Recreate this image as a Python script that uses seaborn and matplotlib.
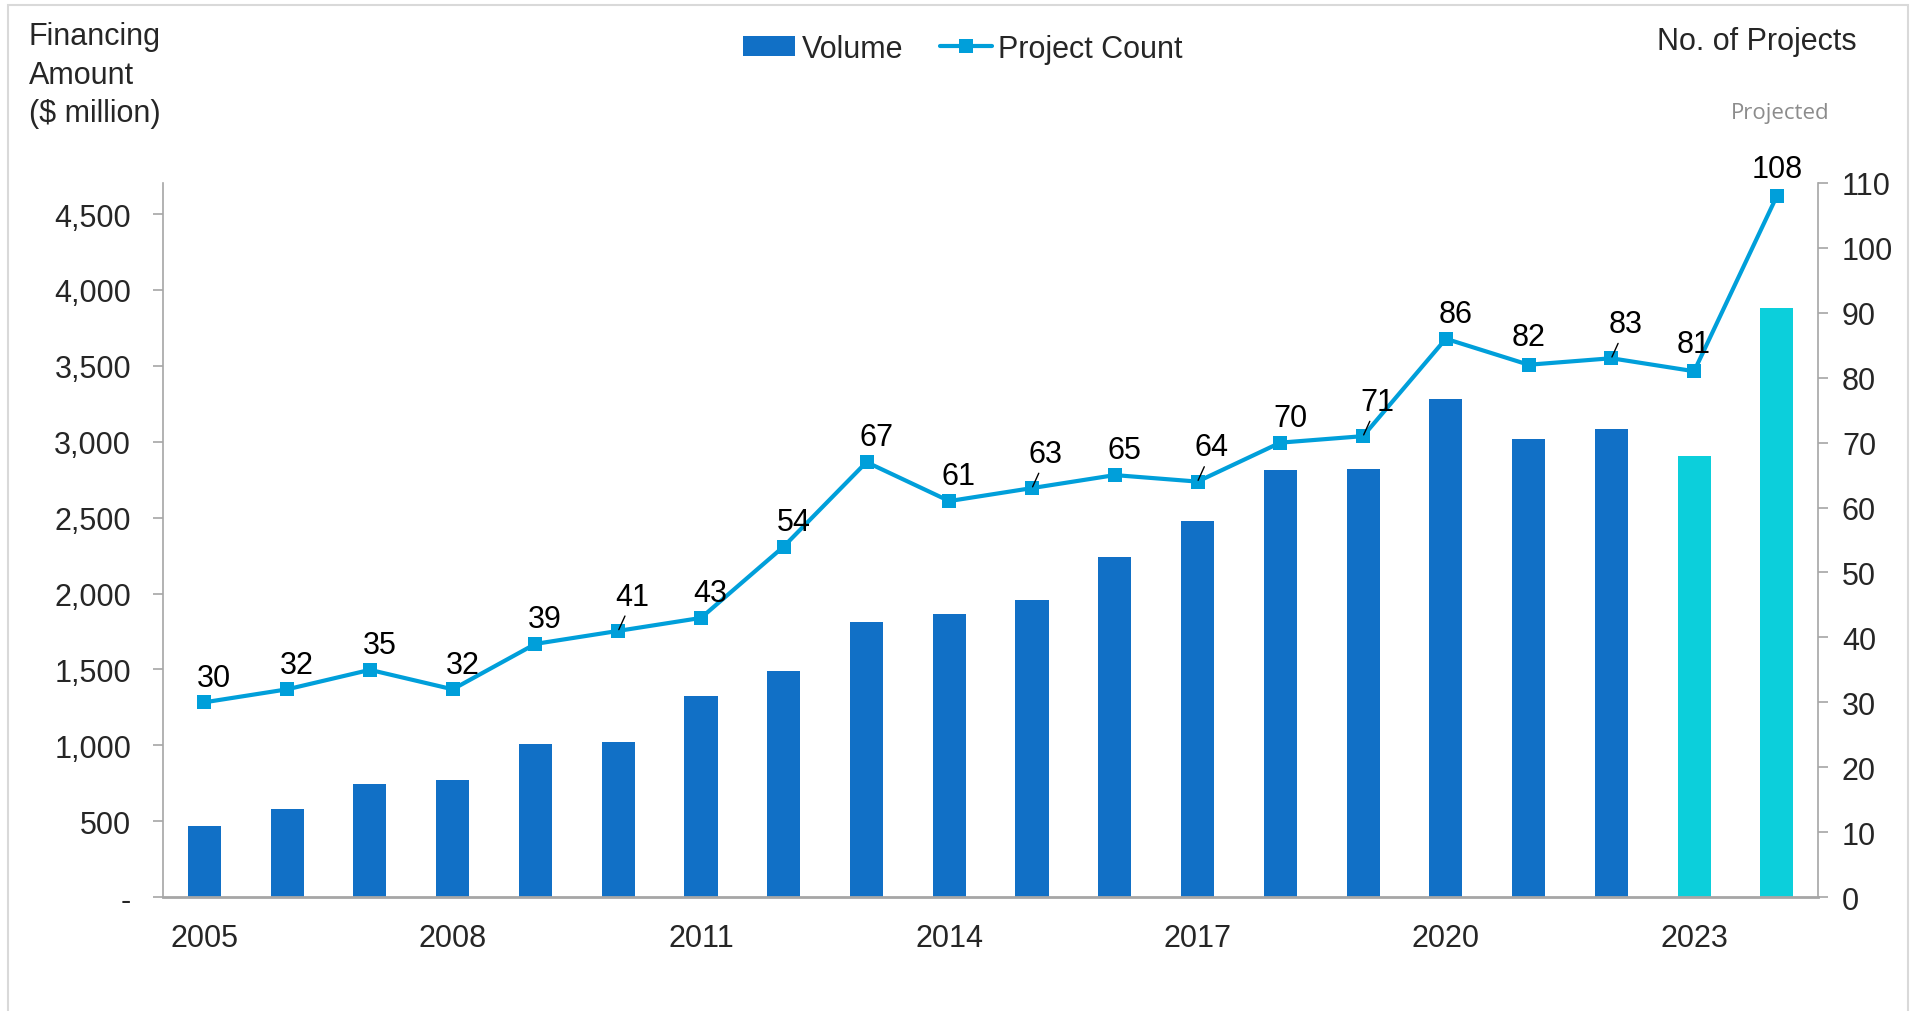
import numpy as np
import pandas as pd
import matplotlib
matplotlib.use("Agg")
import matplotlib.pyplot as plt
from matplotlib.patches import Patch, Rectangle
from matplotlib.lines import Line2D
import seaborn as sns

years = [str(y) for y in range(2005, 2025)]
volume = [468, 581, 742, 774, 1008, 1024, 1323, 1492, 1815, 1863,
          1960, 2242, 2476, 2815, 2823, 3282, 3016, 3081, 2903, 3879]
project_count = [30, 32, 35, 32, 39, 41, 43, 54, 67, 61,
                 63, 65, 64, 70, 71, 86, 82, 83, 81, 108]
projected_years = ["2023", "2024"]
leader_years = ["2010", "2015", "2017", "2019", "2022"]
centered_label_years = ["2021", "2023", "2024"]
left_ticks = [0, 500, 1000, 1500, 2000, 2500, 3000, 3500, 4000, 4500]
left_ticklabels = ["-", "500", "1,000", "1,500", "2,000", "2,500", "3,000", "3,500", "4,000", "4,500"]
right_ticks = list(range(0, 111, 10))
xlabel_years = ["2005", "2008", "2011", "2014", "2017", "2020", "2023"]

DARK = "#1170C6"
CYAN = "#0CCFDB"
LINE = "#009FDA"
GREY = "#A6A6A6"
FS = 22

sns.set_theme(style="white")
plt.rcParams['font.family'] = ['Liberation Sans', 'DejaVu Sans']

fig = plt.figure(figsize=(19.18, 10.12), dpi=100)
ax = fig.add_axes([0.085, 0.1126, 0.863, 0.7056])

df = pd.DataFrame({"year": years, "volume": volume, "count": project_count})
colors = [CYAN if y in projected_years else DARK for y in years]
sns.barplot(data=df, x="year", y="volume", hue="year", palette=colors,
            legend=False, width=0.4, ax=ax, saturation=1, edgecolor="none")

ax.set_xlim(-0.5, len(years) - 0.5)
ax.set_ylim(0, 4705)
ax.set_yticks(left_ticks)
ax.set_yticklabels(left_ticklabels, fontsize=FS)
ax.set_xlabel("")
ax.set_ylabel("")
pos = [years.index(y) for y in xlabel_years]
ax.set_xticks(pos)
ax.set_xticklabels(xlabel_years, fontsize=FS)
ax.set_xticks(np.arange(-0.5, len(years), 1.0), minor=True)
ax.tick_params(axis="x", which="major", length=0, pad=19)
ax.tick_params(axis="x", which="minor", length=10, color=GREY, width=1.2, direction="out")
ax.tick_params(axis="y", length=7, color=GREY, width=1.2, direction="out", left=True, pad=16)
for s in ["top", "right"]:
    ax.spines[s].set_visible(False)
ax.spines["left"].set_color(GREY)
ax.spines["bottom"].set_color(GREY)
ax.spines["bottom"].set_linewidth(2)
ax.spines["left"].set_linewidth(1.2)

ax2 = ax.twinx()
sns.lineplot(x=np.arange(len(years)), y=project_count, ax=ax2, color=LINE,
             linewidth=3, marker="s", markersize=10, markeredgewidth=0)
ax2.set_ylim(0, 110)
ax2.set_yticks(right_ticks)
ax2.set_yticklabels([str(t) for t in right_ticks], fontsize=FS)
ax2.tick_params(axis="y", length=7, color=GREY, width=1.2, direction="out", right=True, pad=10)
ax2.set_ylabel("")
for s in ["top", "left", "bottom"]:
    ax2.spines[s].set_visible(False)
ax2.spines["right"].set_color(GREY)
ax2.spines["right"].set_linewidth(1.2)

for i, (y, c) in enumerate(zip(years, project_count)):
    if y in leader_years:
        ax2.annotate(str(c), xy=(i, c), xytext=(10, 19), textcoords="offset points",
                     ha="center", va="baseline", fontsize=FS, color="black",
                     arrowprops=dict(arrowstyle="-", color="black", lw=1,
                                     shrinkA=1, shrinkB=1, relpos=(0.35, 0)))
    elif y in centered_label_years:
        ax2.annotate(str(c), xy=(i, c), xytext=(0, 14), textcoords="offset points",
                     ha="center", va="baseline", fontsize=FS, color="black")
    else:
        ax2.annotate(str(c), xy=(i, c), xytext=(7, 12), textcoords="offset points",
                     ha="center", va="baseline", fontsize=FS, color="black")

fig.text(0.015, 0.978, "Financing\nAmount\n($ million)", ha="left", va="top",
         fontsize=FS, linespacing=1.36)
fig.text(0.968, 0.973, "No. of Projects", ha="right", va="top", fontsize=FS)
fig.text(0.928, 0.888, "Projected", ha="center", va="center", fontsize=16,
         color="#8C8C8C", family=["Open Sans", "DejaVu Sans"])

handles = [Patch(facecolor=DARK, edgecolor="none", label="Volume"),
           Line2D([0], [0], color=LINE, lw=3, marker="s", markersize=10,
                  markeredgewidth=0, label="Project Count")]
fig.legend(handles=handles, loc="center", bbox_to_anchor=(0.502, 0.951), ncol=2,
           frameon=False, fontsize=FS, handlelength=1.7, handletextpad=0.2,
           columnspacing=1.2, handleheight=0.6)

fig.add_artist(Rectangle((0.004, -0.01), 0.991, 1.004, transform=fig.transFigure,
                         fill=False, edgecolor="#D9D9D9", linewidth=1.5))

fig.savefig("out.png", dpi=100)
